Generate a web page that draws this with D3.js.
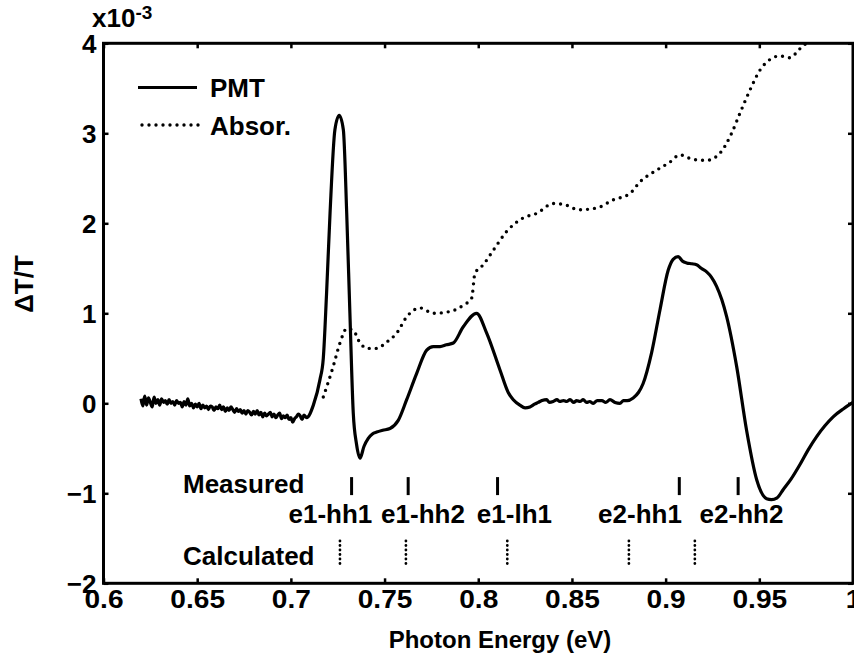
<!DOCTYPE html>
<html><head><meta charset="utf-8">
<script src="https://cdn.jsdelivr.net/npm/d3@7/dist/d3.min.js"></script>
<style>
html,body{margin:0;padding:0;background:#fff;}
text{font-family:"Liberation Sans",Arial,Helvetica,sans-serif;font-weight:bold;fill:#000;}
</style></head>
<body><svg id="c" width="854" height="664"></svg>
<script>
// ---- data (x in eV, y in units of 1e-3) ----
const pmtE = [0.6200,0.6210,0.6220,0.6230,0.6240,0.6250,0.6260,0.6270,0.6280,0.6290,0.6300,0.6310,0.6320,0.6330,0.6340,0.6350,0.6360,0.6370,0.6380,0.6390,
  0.6400,0.6410,0.6420,0.6430,0.6440,0.6450,0.6460,0.6470,0.6480,0.6490,0.6500,0.6510,0.6520,0.6530,0.6540,0.6550,0.6560,0.6570,0.6580,0.6590,
  0.6600,0.6610,0.6620,0.6630,0.6640,0.6650,0.6660,0.6670,0.6680,0.6690,0.6700,0.6710,0.6720,0.6730,0.6740,0.6750,0.6760,0.6770,0.6780,0.6790,
  0.6800,0.6810,0.6820,0.6830,0.6840,0.6850,0.6860,0.6870,0.6880,0.6890,0.6900,0.6910,0.6920,0.6930,0.6940,0.6950,0.6960,0.6970,0.6980,0.6990,
  0.7000,0.7010,0.7020,0.7030,0.7040,0.7050,0.7060,0.7070,0.7084,
  0.7120,0.7155,0.7173,0.7190,0.7209,0.7235,0.7258,0.7280,0.7298,0.7315,0.7333,0.7350,0.7369,0.7390,0.7413,0.7435,0.7458,0.7490,0.7529,0.7573,0.7618,0.7671,0.7725,0.7760,0.7796,0.7830,0.7867,0.7920,0.7991,0.8045,0.8116,0.8160,0.8187,0.8222,0.8250,0.8276,
  0.8300,0.8320,0.8340,0.8365,0.8380,0.8400,0.8420,0.8435,0.8455,0.8472,0.8490,0.8510,0.8525,0.8543,0.8560,0.8578,0.8595,0.8614,0.8635,0.8660,0.8680,0.8703,0.8730,0.8756,0.8775,0.8795,0.8827,0.8855,0.8880,0.8925,0.8970,0.9014,0.9040,0.9067,0.9090,0.9112,0.9140,0.9165,0.9190,0.9219,0.9245,0.9272,0.9300,0.9326,0.9379,0.9432,0.9486,0.9539,0.9565,0.9595,0.9627,0.9670,0.9717,0.9760,0.9806,0.9850,0.9894,0.9950,1.0];
const pmtV = [0.05,-0.03,0.08,-0.02,0.06,0.01,-0.04,0.07,0.00,0.04,-0.02,0.05,0.01,0.03,-0.01,0.04,0.00,0.02,-0.02,0.03,
  0.00,0.01,-0.04,0.02,-0.02,0.05,-0.03,0.00,-0.05,-0.01,-0.04,0.00,-0.06,-0.02,-0.05,-0.03,-0.07,-0.03,-0.04,-0.08,
  -0.04,-0.06,-0.02,-0.07,-0.04,-0.09,-0.05,-0.08,-0.04,-0.07,-0.10,-0.06,-0.09,-0.07,-0.11,-0.08,-0.12,-0.08,-0.10,-0.13,
  -0.09,-0.12,-0.08,-0.13,-0.10,-0.15,-0.11,-0.14,-0.12,-0.10,-0.15,-0.12,-0.16,-0.13,-0.11,-0.17,-0.14,-0.16,-0.13,-0.18,
  -0.16,-0.21,-0.17,-0.15,-0.12,-0.14,-0.18,-0.13,-0.16,
  -0.02,0.26,0.50,1.20,2.11,3.04,3.2,3.04,2.11,1.0,-0.11,-0.45,-0.61,-0.48,-0.39,-0.34,-0.32,-0.30,-0.28,-0.19,0.04,0.33,0.59,0.63,0.63,0.65,0.67,0.85,1.0,0.78,0.37,0.12,0.04,-0.02,-0.05,-0.04,
  -0.01,0.01,0.03,0.04,0.01,0.02,0.04,0.02,0.03,0.02,0.04,0.01,0.03,0.02,0.04,0.01,0.02,0.0,0.03,0.03,0.01,0.04,0.01,0.0,0.03,0.03,0.06,0.12,0.22,0.56,1.04,1.48,1.60,1.63,1.58,1.56,1.55,1.54,1.50,1.46,1.40,1.30,1.15,0.96,0.41,-0.30,-0.85,-1.06,-1.07,-1.05,-0.96,-0.84,-0.68,-0.52,-0.37,-0.25,-0.15,-0.06,0.01];
const absE = [0.7173,0.7226,0.7262,0.7298,0.7333,0.7369,0.7413,0.7458,0.7511,0.7565,0.7618,0.7689,0.776,0.7849,0.792,0.7965,0.7982,0.8027,0.808,0.8152,0.824,0.8312,0.84,0.8472,0.8534,
  0.8632,0.872,0.8809,0.8863,0.8952,0.9023,0.9076,0.9147,0.9219,0.929,0.9352,0.9396,0.945,0.9503,0.9557,0.961,0.9663,0.9717,0.975];
const absV = [0.07,0.41,0.67,0.83,0.81,0.67,0.61,0.61,0.68,0.78,0.96,1.06,1.0,1.02,1.09,1.17,1.44,1.54,1.70,1.91,2.06,2.11,2.22,2.20,2.15,
  2.17,2.26,2.33,2.46,2.59,2.68,2.76,2.71,2.70,2.78,3.0,3.22,3.48,3.70,3.82,3.86,3.84,3.94,4.0];
const xTicks = [0.6,0.65,0.7,0.75,0.8,0.85,0.9,0.95,1.0];
const xTickLabels = ["0.6","0.65","0.7","0.75","0.8","0.85","0.9","0.95","1"];
const yTicks = [-2,-1,0,1,2,3,4];
const measuredE = [0.7324,0.7626,0.8103,0.9073,0.9387];
const calculatedE = [0.7262,0.7614,0.8155,0.8804,0.9156];
const transLabels = ["e1-hh1","e1-hh2","e1-lh1","e2-hh1","e2-hh2"];
const transLabelE = [0.7211,0.7705,0.8193,0.8863,0.9405];
const seriesNames = ["PMT","Absor."];

// ---- layout ----
const svg = d3.select("#c");
const L=103.5, R=853, T=43.3, B=583.3;
const x = d3.scaleLinear().domain([0.6,1.0]).range([L,R]);
const y = d3.scaleLinear().domain([-2,4]).range([B,T]);
const FS = 26;

svg.append("clipPath").attr("id","clip").append("rect")
  .attr("x",L).attr("y",T).attr("width",R-L).attr("height",B-T);

// axes
const gx = svg.append("g").attr("transform",`translate(0,${B})`)
  .call(d3.axisBottom(x).tickValues(xTicks).tickFormat(d=>xTickLabels[xTicks.indexOf(d)]).tickSize(-5).tickPadding(6));
const gxt = svg.append("g").attr("transform",`translate(0,${T})`)
  .call(d3.axisTop(x).tickValues(xTicks).tickFormat("").tickSize(-5));
const gy = svg.append("g").attr("transform",`translate(${L},0)`)
  .call(d3.axisLeft(y).tickValues(yTicks).tickFormat(d3.format("d")).tickSize(-5).tickPadding(7));
const gyr = svg.append("g").attr("transform",`translate(${R},0)`)
  .call(d3.axisRight(y).tickValues(yTicks).tickFormat("").tickSize(-5));
[gx,gxt,gy,gyr].forEach(g=>{
  g.select(".domain").remove();
  g.selectAll("line").attr("stroke","#000").attr("stroke-width",2.5);
  g.selectAll("text").style("font-size",FS+"px").style("font-family",'"Liberation Sans",Arial,sans-serif').style("font-weight","bold").attr("fill","#000");
});
gx.selectAll("text").attr("transform","scale(1.08,1)");
gy.selectAll("text").attr("dy","0.36em");

svg.append("rect").attr("x",L).attr("y",T).attr("width",R-L).attr("height",B-T)
  .attr("fill","none").attr("stroke","#000").attr("stroke-width",3);

// curves
const cg = svg.append("g").attr("clip-path","url(#clip)");
cg.append("path").datum(absE.map((e,i)=>[e,absV[i]]))
  .attr("d",d3.line().x(d=>x(d[0])).y(d=>y(d[1])).curve(d3.curveMonotoneX))
  .attr("fill","none").attr("stroke","#000").attr("stroke-width",3.4)
  .attr("stroke-dasharray","0 7").attr("stroke-linecap","round");
cg.append("path").datum(pmtE.map((e,i)=>[e,pmtV[i]]))
  .attr("d",d3.line().x(d=>x(d[0])).y(d=>y(d[1])).curve(d3.curveMonotoneX))
  .attr("fill","none").attr("stroke","#000").attr("stroke-width",3.2).attr("stroke-linejoin","round");

// transition markers
svg.selectAll(".meas").data(measuredE).enter().append("line")
  .attr("x1",d=>x(d)).attr("x2",d=>x(d)).attr("y1",y(-0.82)).attr("y2",y(-1.02))
  .attr("stroke","#000").attr("stroke-width",3);
svg.selectAll(".calc").data(calculatedE).enter().append("line")
  .attr("x1",d=>x(d)).attr("x2",d=>x(d)).attr("y1",y(-1.53)).attr("y2",y(-1.82))
  .attr("stroke","#000").attr("stroke-width",2.8).attr("stroke-dasharray","0 4.5").attr("stroke-linecap","round");
svg.selectAll(".tl").data(transLabels).enter().append("text")
  .attr("x",(d,i)=>x(transLabelE[i])).attr("y",y(-1.33)).attr("text-anchor","middle")
  .style("font-size",FS+"px").text(d=>d);
svg.append("text").attr("x",183).attr("y",493).style("font-size",FS+"px").text("Measured");
svg.append("text").attr("x",183).attr("y",565).style("font-size",FS+"px").text("Calculated");

// legend
svg.append("line").attr("x1",138).attr("x2",197).attr("y1",87.5).attr("y2",87.5).attr("stroke","#000").attr("stroke-width",3.2);
svg.append("text").attr("x",210).attr("y",96.5).style("font-size",FS+"px").text(seriesNames[0]);
svg.append("line").attr("x1",142).attr("x2",199).attr("y1",125).attr("y2",125).attr("stroke","#000").attr("stroke-width",3.4)
  .attr("stroke-dasharray","0 7").attr("stroke-linecap","round");
svg.append("text").attr("x",210).attr("y",134.5).style("font-size",FS+"px").text(seriesNames[1]);

// axis titles
svg.append("text").attr("x",500).attr("y",648).attr("text-anchor","middle").style("font-size","24px").text("Photon Energy (eV)");
svg.append("text").attr("transform","translate(33,284) rotate(-90)").attr("text-anchor","middle").style("font-size","26px").text("ΔT/T");
const ex = svg.append("text").attr("x",92).attr("y",27).style("font-size","26px");
ex.append("tspan").text("x10");
ex.append("tspan").attr("dy",-8).style("font-size","19px").text("-3");
</script></body></html>
